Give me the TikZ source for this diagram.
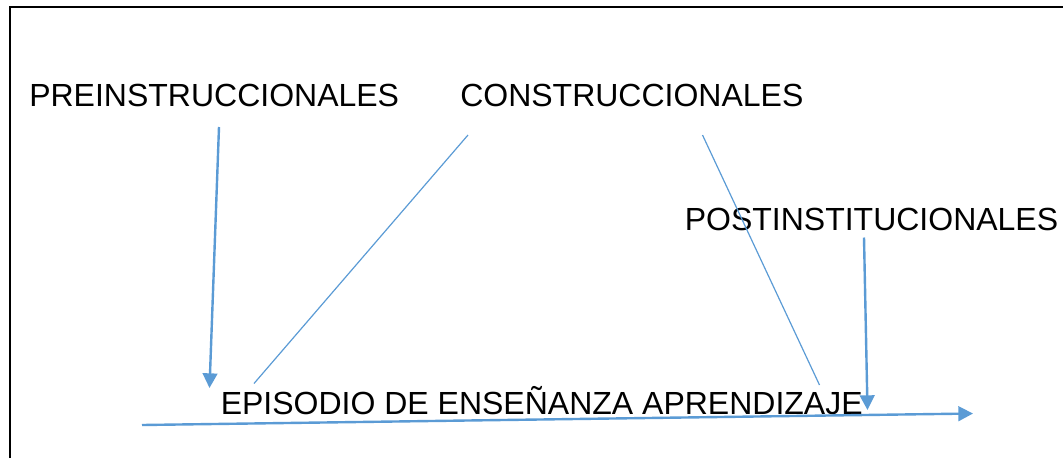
\documentclass[tikz,border=0pt]{standalone}
\usepackage{fontspec}
\setmainfont{Liberation Sans}
\usetikzlibrary{arrows.meta}
\definecolor{arrowblue}{HTML}{5B9BD5}
\begin{document}
\begin{tikzpicture}[x=0.75pt,y=-0.75pt,
  labelstyle/.style={anchor=base west,inner sep=0,font=\fontsize{24}{29}\selectfont},
  thickarrow/.style={draw=arrowblue,line width=1.8pt,-{Triangle[length=11pt,width=11pt]}},
  thinline/.style={draw=arrowblue,line width=0.9pt}]
\useasboundingbox (0,0) rectangle (1063,458);
\draw[line width=1.6pt] (10,458) -- (10,7) -- (1063,7);
\node[labelstyle] (pre) at (29,106.5) {PREINSTRUCCIONALES};
\node[labelstyle] (cons) at (460,106.5) {CONSTRUCCIONALES};
\node[labelstyle] (post) at (684.5,230) {POSTINSTITUCIONALES};
\node[labelstyle] (episode) at (220.5,414) {EPISODIO DE ENSEÑANZA APRENDIZAJE};
% ends of the connectors
\coordinate (pre-out) at (219,127);
\coordinate (pre-in) at (209.5,388);
\coordinate (cons-outa) at (468,135);
\coordinate (cons-ina) at (254,383.5);
\coordinate (cons-outb) at (702.5,135);
\coordinate (cons-inb) at (819.5,385);
\coordinate (post-out) at (864,237.5);
\coordinate (post-in) at (867.5,410);
\coordinate (time-start) at (142,425);
\coordinate (time-end) at (973,413.5);
\draw[thickarrow] (pre-out) -- (pre-in);
\draw[thinline] (cons-outa) -- (cons-ina);
\draw[thinline] (cons-outb) -- (cons-inb);
\draw[thickarrow] (post-out) -- (post-in);
\draw[thickarrow] (time-start) -- (time-end);
\end{tikzpicture}
\end{document}
